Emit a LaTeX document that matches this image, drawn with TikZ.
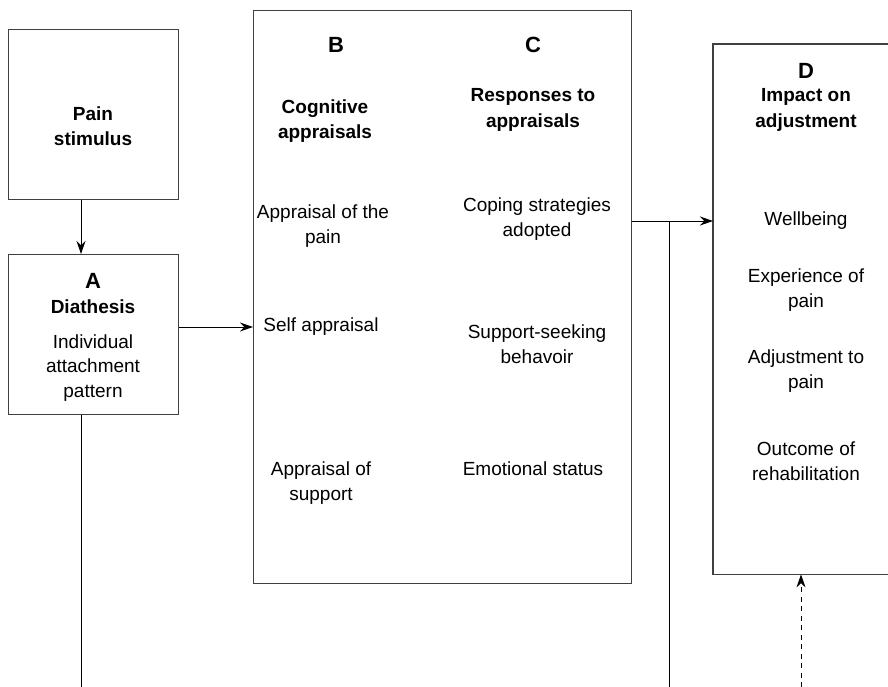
\documentclass[tikz,border=0pt]{standalone}
\usepackage{fontspec}
\setmainfont{Liberation Sans}
\usetikzlibrary{arrows.meta}
\begin{document}
\begin{tikzpicture}[x=1pt,y=-1pt,
  box/.style={draw=black!75, line width=1.1pt, inner sep=0pt, anchor=north west},
  txt/.style={align=center, inner sep=0pt, font=\fontsize{19}{24.5}\selectfont},
  btxt/.style={align=center, inner sep=0pt, font=\fontsize{19}{25.5}\selectfont\bfseries},
  letter/.style={inner sep=0pt, font=\fontsize{22}{26}\selectfont\bfseries},
  conn/.style={line width=1pt},
  arr/.style={conn, -{Stealth[length=13pt,width=9pt]}}]
\useasboundingbox (0,0) rectangle (888,687);

% boxes
\node[box, minimum width=170pt, minimum height=170pt] (P) at (8,29) {};
\node[box, minimum width=170pt, minimum height=160pt] (A) at (8,254) {};
\node[box, minimum width=378pt, minimum height=573pt] (BC) at (253,10) {};
\node[inner sep=0pt, anchor=north west, minimum width=175pt, minimum height=530pt] (D) at (713,44) {};
\draw[draw=black!75, line width=1.1pt] (D.north east) -- (D.north west) -- (D.south west) -- (D.south east);

% texts
\node[btxt] (tP) at (93,126) {Pain\\stimulus};
\node[letter] (lA) at (93,281) {A};
\node[btxt] (tA) at (93,307) {Diathesis};
\node[txt] (tA2) at (93,368) {Individual\\attachment\\pattern};

\node[letter] (lB) at (336,45) {B};
\node[letter] (lC) at (533,45) {C};
\node[btxt] (hB) at (325,121) {Cognitive\\appraisals};
\node[btxt] (hC) at (533,110) {Responses to\\appraisals};
\node[txt] (b1) at (323,226) {Appraisal of the\\pain};
\node[txt] (c1) at (537,219) {Coping strategies\\adopted};
\node[txt] (b2) at (321,327) {Self appraisal};
\node[txt] (c2) at (537,344) {Support-seeking\\behavoir};
\node[txt] (b3) at (321,483) {Appraisal of\\support};
\node[txt] (c3) at (533,469) {Emotional status};

\node[letter] (lD) at (806,71) {D};
\node[btxt] (hD) at (806,110) {Impact on\\adjustment};
\node[txt] (d1) at (806,221) {Wellbeing};
\node[txt] (d2) at (806,290) {Experience of\\pain};
\node[txt] (d3) at (806,371) {Adjustment to\\pain};
\node[txt] (d4) at (806,461) {Outcome of\\rehabilitation};

% helper coordinates
\coordinate (xa) at (81,0);
\coordinate (ya) at (0,327);
\coordinate (yd) at (0,221);
\coordinate (j) at (669,221);
\coordinate (jb) at (669,687);
\coordinate (lb) at (81,687);
\coordinate (db) at (801,687);

% connectors
\draw[arr] (P.south -| xa) -- (A.north -| xa);
\draw[conn] (A.south -| xa) -- (lb);
\draw[arr] (A.east |- ya) -- (BC.west |- ya);
\draw[arr] (BC.east |- yd) -- (D.west |- yd);
\draw[conn] (j) -- (jb);
\draw[arr, dash pattern=on 5pt off 4.5pt] (db) -- (D.south -| db);
\end{tikzpicture}
\end{document}
